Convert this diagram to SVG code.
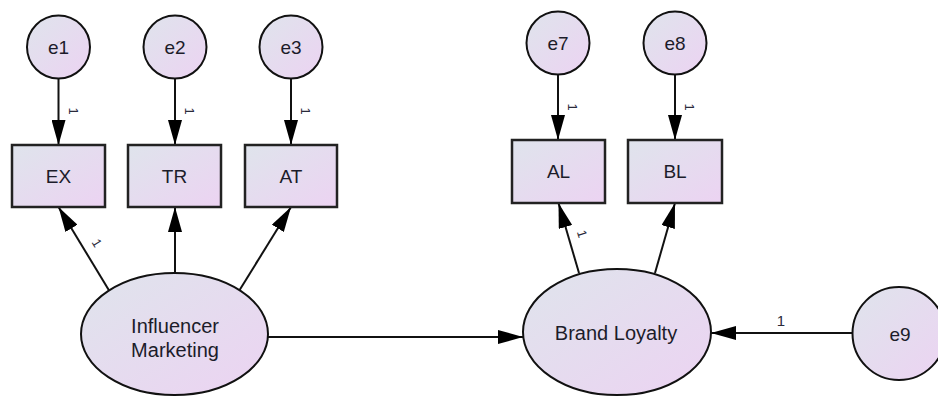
<svg xmlns="http://www.w3.org/2000/svg" width="938" height="397" viewBox="0 0 938 397">
  <defs>
    <linearGradient id="fillGrad" x1="0" y1="0" x2="1" y2="1">
      <stop offset="0" stop-color="#dfe4ec"/>
      <stop offset="1" stop-color="#ecd3f2"/>
    </linearGradient>
    <marker id="arrow" viewBox="0 0 25 14" refX="25" refY="7" markerWidth="25" markerHeight="14" markerUnits="userSpaceOnUse" orient="auto">
      <path d="M0,0 L25,7 L0,14 Z" fill="#000"/>
    </marker>
  </defs>
  <style>
    .shape { fill: url(#fillGrad); stroke: #111; stroke-width: 2; }
    .box { fill: url(#fillGrad); stroke: #222; stroke-width: 2.5; }
    .label { font-family: "Liberation Sans", Arial, sans-serif; font-size: 19px; fill: #1c1c2a; text-anchor: middle; dominant-baseline: central; }
    .big { font-size: 20px; }
    .edge { stroke: #111; stroke-width: 2; fill: none; marker-end: url(#arrow); }
    .wt { font-family: "Liberation Sans", Arial, sans-serif; font-size: 13px; fill: #2a2a3a; text-anchor: middle; dominant-baseline: central; }
    .wt-h { font-size: 15px; }
  </style>
  <rect width="938" height="397" fill="#fff"/>

  <!-- paths between variables -->
  <g id="connectors">
    <line class="edge" x1="58.5" y1="78" x2="58.5" y2="145"/>
    <line class="edge" x1="175" y1="79" x2="175" y2="145"/>
    <line class="edge" x1="291" y1="79" x2="291" y2="145"/>
    <line class="edge" x1="558" y1="75" x2="558" y2="140"/>
    <line class="edge" x1="675" y1="75" x2="675" y2="140"/>
    <line class="edge" x1="110" y1="292" x2="58.5" y2="207"/>
    <line class="edge" x1="175" y1="273" x2="175" y2="207"/>
    <line class="edge" x1="239" y1="291" x2="291" y2="207"/>
    <line class="edge" x1="579" y1="273" x2="558.5" y2="203"/>
    <line class="edge" x1="655" y1="273" x2="675" y2="203"/>
    <line class="edge" x1="268" y1="337" x2="523" y2="337"/>
    <line class="edge" x1="852" y1="333" x2="711" y2="333"/>
    <text class="wt" transform="translate(73,111) rotate(90)">1</text>
    <text class="wt" transform="translate(189,111) rotate(90)">1</text>
    <text class="wt" transform="translate(305,111) rotate(90)">1</text>
    <text class="wt" transform="translate(572,107) rotate(90)">1</text>
    <text class="wt" transform="translate(689,107) rotate(90)">1</text>
    <text class="wt" transform="translate(97,243) rotate(58.5)">1</text>
    <text class="wt" transform="translate(582,234) rotate(73)">1</text>
    <text class="wt wt-h" x="781" y="320">1</text>
  </g>

  <!-- error terms -->
  <g id="e1"><circle class="shape" cx="58.5" cy="47" r="31.5"/><text class="label" x="58.5" y="47">e1</text></g>
  <g id="e2"><circle class="shape" cx="175" cy="47" r="31.5"/><text class="label" x="175" y="47">e2</text></g>
  <g id="e3"><circle class="shape" cx="291" cy="47" r="31.5"/><text class="label" x="291" y="47">e3</text></g>
  <g id="e7"><circle class="shape" cx="558" cy="43" r="31.5"/><text class="label" x="558" y="43">e7</text></g>
  <g id="e8"><circle class="shape" cx="675" cy="43" r="31.5"/><text class="label" x="675" y="43">e8</text></g>
  <g id="e9"><circle class="shape" cx="899" cy="333.5" r="46.5"/><text class="label" x="900" y="334">e9</text></g>

  <!-- observed indicators -->
  <g id="EX"><rect class="box" x="12" y="145" width="93" height="62"/><text class="label" x="58.5" y="176">EX</text></g>
  <g id="TR"><rect class="box" x="128" y="145" width="93" height="62"/><text class="label" x="174.5" y="176">TR</text></g>
  <g id="AT"><rect class="box" x="245" y="145" width="92" height="62"/><text class="label" x="291" y="176">AT</text></g>
  <g id="AL"><rect class="box" x="512" y="140" width="93" height="63"/><text class="label" x="558.5" y="171.5">AL</text></g>
  <g id="BL"><rect class="box" x="628" y="140" width="94" height="63"/><text class="label" x="675" y="171.5">BL</text></g>

  <!-- latent constructs -->
  <g id="InfluencerMarketing">
    <ellipse class="shape" cx="174.5" cy="334" rx="93.5" ry="61"/>
    <text class="label big" x="175" y="326">Influencer</text>
    <text class="label big" x="175" y="350">Marketing</text>
  </g>
  <g id="BrandLoyalty">
    <ellipse class="shape" cx="617" cy="332" rx="94" ry="63"/>
    <text class="label big" x="616" y="333">Brand Loyalty</text>
  </g>
</svg>
